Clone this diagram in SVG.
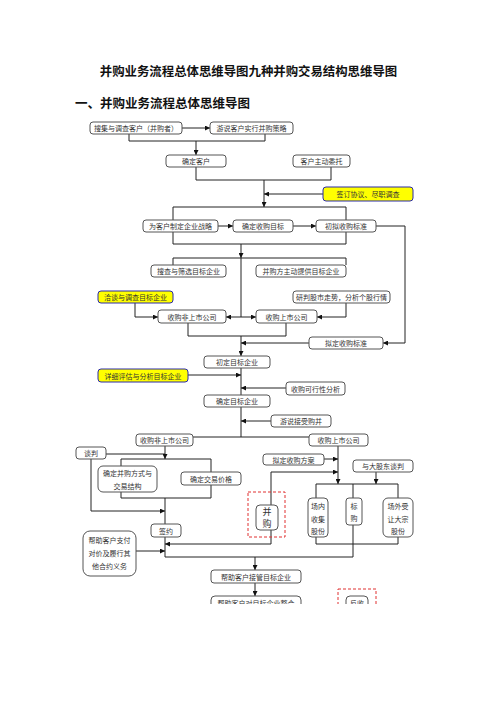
<svg xmlns="http://www.w3.org/2000/svg" width="496" height="702" viewBox="0 0 496 702">
<style>
.b{fill:#fff;stroke:#555;stroke-width:1}
.y{fill:#ffff00;stroke:#2a2aa8;stroke-width:1}
.t{font-family:"Noto Sans CJK SC","Noto Sans",sans-serif;font-size:7px;fill:#333;text-anchor:middle;dominant-baseline:central}
.l{fill:none;stroke:#222;stroke-width:1}
.a{fill:none;stroke:#222;stroke-width:1;marker-end:url(#ar)}
.r{fill:none;stroke:#e03030;stroke-width:1;stroke-dasharray:3,2}
.h{font-family:"Noto Sans CJK SC","Noto Sans",sans-serif;font-weight:bold;fill:#111}
</style>
<defs>
<marker id="ar" markerUnits="userSpaceOnUse" markerWidth="5" markerHeight="5" refX="5" refY="2.5" orient="auto">
<path d="M0,0 L5,2.5 L0,5 z" fill="#111"/>
</marker>
<clipPath id="cp"><rect x="0" y="0" width="496" height="604"/></clipPath>
</defs>
<rect width="496" height="702" fill="#fff"/>
<text class="h" x="248.5" y="76" font-size="12.4" text-anchor="middle">并购业务流程总体思维导图九种并购交易结构思维导图</text>
<text class="h" x="75" y="108" font-size="12.5">一、并购业务流程总体思维导图</text>

<g id="connectors" clip-path="url(#cp)">
<path class="a" d="M182,128 H210"/>
<path class="l" d="M129,134 V141 H265 V134"/>
<path class="a" d="M196,141 V155"/>
<path class="l" d="M196,167 V180 H331 V167"/>
<path class="a" d="M264,180 V207"/>
<path class="a" d="M323,194 H264"/>
<path class="l" d="M173,207 H346 V244 H173 Z"/>
<path class="a" d="M218,226 H233"/>
<path class="a" d="M293,226 H316"/>
<path class="a" d="M376,226 H405 V343 H383"/>
<path class="a" d="M241,244 V258"/>
<path class="l" d="M173,265 V258 H346 V265"/>
<path class="l" d="M241,258 V317"/>
<path class="a" d="M135,303 V317 H158"/>
<path class="a" d="M241,317 H226"/>
<path class="a" d="M241,317 H256"/>
<path class="a" d="M346,303 V317 H317"/>
<path class="l" d="M188,323 V336 H286 V323"/>
<path class="a" d="M309,343 H241"/>
<path class="a" d="M241,336 V356"/>
<path class="l" d="M241,368 V395"/>
<path class="a" d="M188,375 H241"/>
<path class="a" d="M286,388 H241"/>
<path class="l" d="M241,407 V437"/>
<path class="a" d="M331,421 H241"/>
<path class="l" d="M193,437 H309"/>
<path class="l" d="M106,454 H165"/>
<path class="a" d="M165,446 V459"/>
<path class="l" d="M121,459 H211 V498 H121 Z"/>
<path class="a" d="M91,459 V511 H165"/>
<path class="l" d="M165,498 V524"/>
<path class="l" d="M165,537 V557 H353"/>
<path class="a" d="M271,505 V472 H338"/>
<path class="a" d="M338,446 V484"/>
<path class="a" d="M324,459 H338"/>
<path class="a" d="M376,472 V484"/>
<path class="l" d="M316,498 V484 H398 V498"/>
<path class="l" d="M353,484 V557"/>
<path class="l" d="M316,537 V544 H398 V537"/>
<path class="a" d="M271,530 V544 H165"/>
<path class="a" d="M136,551 H165"/>
<path class="a" d="M255,557 V570"/>
<path class="a" d="M255,583 V596"/>
</g>

<g id="n1"><rect class="b" x="90" y="122" width="92" height="12" rx="3"/><text class="t" x="136" y="128">搜集与调查客户（并购者）</text></g>
<g id="n2"><rect class="b" x="210" y="122" width="83" height="12" rx="3"/><text class="t" x="251.5" y="128">游说客户实行并购策略</text></g>
<g id="n3"><rect class="b" x="166" y="155" width="60" height="12" rx="3"/><text class="t" x="196" y="161">确定客户</text></g>
<g id="n4"><rect class="b" x="293" y="155" width="57" height="12" rx="3"/><text class="t" x="321.5" y="161">客户主动委托</text></g>
<g id="n5"><rect class="y" x="323" y="187" width="90" height="14" rx="3"/><text class="t" x="368" y="194">签订协议、尽职调查</text></g>
<g id="n6"><rect class="b" x="143" y="220" width="75" height="12" rx="3"/><text class="t" x="180.5" y="226">为客户制定企业战略</text></g>
<g id="n7"><rect class="b" x="233" y="220" width="60" height="12" rx="3"/><text class="t" x="263" y="226">确定收购目标</text></g>
<g id="n8"><rect class="b" x="316" y="220" width="60" height="12" rx="3"/><text class="t" x="346" y="226">初拟收购标准</text></g>
<g id="n9"><rect class="b" x="151" y="265" width="75" height="12" rx="3"/><text class="t" x="188.5" y="271">搜查与筛选目标企业</text></g>
<g id="n10"><rect class="b" x="256" y="265" width="90" height="12" rx="3"/><text class="t" x="301" y="271">并购方主动提供目标企业</text></g>
<g id="n11"><rect class="y" x="98" y="291" width="75" height="12" rx="3"/><text class="t" x="135.5" y="297">洽谈与调查目标企业</text></g>
<g id="n12"><rect class="b" x="293" y="291" width="97" height="12" rx="3"/><text class="t" x="341.5" y="297">研判股市走势，分析个股行情</text></g>
<g id="n13"><rect class="b" x="158" y="310" width="68" height="13" rx="3"/><text class="t" x="192" y="316.5">收购非上市公司</text></g>
<g id="n14"><rect class="b" x="256" y="310" width="61" height="13" rx="3"/><text class="t" x="286.5" y="316.5">收购上市公司</text></g>
<g id="n15"><rect class="b" x="309" y="337" width="74" height="12" rx="3"/><text class="t" x="346" y="343">拟定收购标准</text></g>
<g id="n16"><rect class="b" x="204" y="356" width="66" height="12" rx="3"/><text class="t" x="237" y="362">初定目标企业</text></g>
<g id="n17"><rect class="y" x="98" y="369" width="90" height="13" rx="3"/><text class="t" x="143" y="375.5">详细评估与分析目标企业</text></g>
<g id="n18"><rect class="b" x="286" y="382" width="59" height="13" rx="3"/><text class="t" x="315.5" y="388.5">收购可行性分析</text></g>
<g id="n19"><rect class="b" x="204" y="395" width="66" height="12" rx="3"/><text class="t" x="237" y="401">确定目标企业</text></g>
<g id="n20"><rect class="b" x="271" y="415" width="60" height="12" rx="3"/><text class="t" x="301" y="421">游说接受购并</text></g>
<g id="n21"><rect class="b" x="136" y="434" width="57" height="12" rx="3"/><text class="t" x="164.5" y="440">收购非上市公司</text></g>
<g id="n22"><rect class="b" x="309" y="434" width="59" height="12" rx="3"/><text class="t" x="338.5" y="440">收购上市公司</text></g>
<g id="n23"><rect class="b" x="76" y="447" width="30" height="12" rx="3"/><text class="t" x="91" y="453">谈判</text></g>
<g id="n24"><rect class="b" x="98" y="466" width="59" height="26" rx="5"/><text class="t" x="127.5" y="473">确定并购方式与</text><text class="t" x="127.5" y="486">交易结构</text></g>
<g id="n25"><rect class="b" x="181" y="472" width="60" height="13" rx="3"/><text class="t" x="211" y="478.5">确定交易价格</text></g>
<g id="n26"><rect class="b" x="151" y="524" width="30" height="13" rx="3"/><text class="t" x="166" y="530.5">签约</text></g>
<g id="n27"><rect class="r" x="248" y="492" width="37" height="45"/><rect class="b" x="256" y="505" width="22" height="25" rx="4"/><text class="t" x="267" y="511.5" style="font-size:9px">并</text><text class="t" x="267" y="523.5" style="font-size:9px">购</text></g>
<g id="n28"><rect class="b" x="263" y="454" width="61" height="11" rx="3"/><text class="t" x="293.5" y="459.5">拟定收购方案</text></g>
<g id="n29"><rect class="b" x="353" y="460" width="60" height="12" rx="3"/><text class="t" x="383" y="466">与大股东谈判</text></g>
<g id="n30"><rect class="b" x="308" y="498" width="20" height="39" rx="4"/><text class="t" x="318" y="506">场内</text><text class="t" x="318" y="518.5">收集</text><text class="t" x="318" y="531">股份</text></g>
<g id="n31"><rect class="b" x="346" y="498" width="16" height="27" rx="3"/><text class="t" x="354" y="505.5">标</text><text class="t" x="354" y="518">购</text></g>
<g id="n32"><rect class="b" x="383" y="498" width="30" height="39" rx="5"/><text class="t" x="398" y="506">场外受</text><text class="t" x="398" y="518.5">让大宗</text><text class="t" x="398" y="531">股份</text></g>
<g id="n33"><rect class="b" x="83" y="531" width="53" height="45" rx="7"/><text class="t" x="109.5" y="540">帮助客户支付</text><text class="t" x="109.5" y="553">对价及履行其</text><text class="t" x="109.5" y="566">他合约义务</text></g>
<g id="n34"><rect class="b" x="211" y="570" width="90" height="13" rx="3"/><text class="t" x="256" y="576.5">帮助客户接管目标企业</text></g>
<g clip-path="url(#cp)">
<g id="n35"><rect class="b" x="211" y="596" width="90" height="14" rx="4"/><text class="t" x="256" y="603">帮助客户对目标企业整合</text></g>
<g id="n36"><rect class="r" x="338" y="589" width="38" height="30"/><rect class="b" x="346" y="596" width="22" height="20" rx="4"/><text class="t" x="357" y="603">反收</text></g>
</g>
</svg>
